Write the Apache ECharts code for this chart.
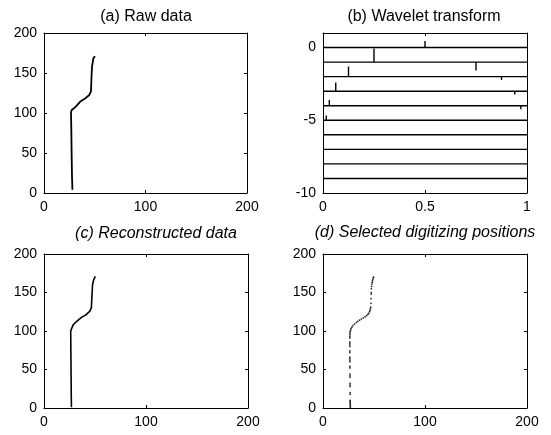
<!DOCTYPE html>
<html>
<head>
<meta charset="utf-8">
<script src="https://cdn.jsdelivr.net/npm/echarts@6/dist/echarts.min.js"></script>
<style>
  html, body { margin: 0; padding: 0; background: #fff; }
  #main { width: 551px; height: 435px; }
</style>
</head>
<body>
<div id="main"></div>
<script>
const rawX = [28, 27.6, 27.2, 26.9, 26.6, 27.5, 29.6, 32, 35.5, 40.4, 44.6, 46.3, 46.5, 46.8, 47.3, 48.6, 50.2];
const rawY = [4, 20, 50, 80, 101, 104, 106, 109, 114, 118, 122.5, 127, 135, 145, 158, 168, 171];

// (c) reconstructed curve
const recX = [26.9, 26.7, 26.5, 26.3, 26.2, 27, 28.6, 31.5, 36.7, 41, 44.8, 46.4, 46.8, 47.2, 47.6, 48.8, 50.4];
const recY = [1, 20, 50, 80, 99.6, 103, 108, 112, 117.7, 121, 125.5, 130, 140, 150, 160, 167, 171];

// (d) selected digitizing positions
const selX = [26.8, 26.8, 26.7, 26.7, 26.7, 26.6, 26.6, 26.6, 26.6, 26.5, 26.5, 26.5, 26.5, 26.5, 26.4, 26.4,
  26.4, 26.4, 26.4, 26.3, 26.3, 26.3, 26.3, 26.3, 26.3, 26.3, 26.3, 26.3, 26.3, 26.4, 26.4, 26.5,
  27, 27.5, 28.3, 29.3, 30.8, 32.5, 34, 35.8, 37.6, 39.5, 41.3, 42.8, 44, 44.8, 45.6, 46.1, 46.5, 46.8,
  47, 47.1, 47.2, 47.3, 47.4, 47.6, 47.9, 48.2, 48.5, 48.9, 49.3, 49.6];
const selY = [1, 2.5, 4, 5.5, 7, 8.5, 10, 18, 20, 28, 30, 32, 40, 42, 44, 52,
  54, 60, 62, 64, 66, 72, 74, 80, 82, 84, 86, 91, 93, 95, 97, 99,
  101, 103, 105, 107, 109, 111, 112.5, 114, 115.5, 117, 118.5, 120, 121.5, 123, 125, 127, 129, 131,
  136, 142, 148, 150, 155, 158, 161, 163, 165, 167, 169, 170];

// (b) wavelet transform: one trace per level, spikes at given positions
const levels = [0, -1, -2, -3, -4, -5, -6, -7, -8, -9];
const spikeLevel = [0, -1, -1, -2, -2, -3, -3, -3, -3, -4, -4, -5];
const spikeX = [0.5, 0.25, 0.75, 0.125, 0.875, 0.0625, 0.44, 0.8, 0.94, 0.031, 0.97, 0.016];
const spikeAmp = [0.45, 0.93, -0.58, 0.7, -0.23, 0.6, 0.08, 0.08, -0.23, 0.4, -0.25, 0.33];

const xyTicks = [0, 100, 200];
const waveXTicks = [0, 0.5, 1];

const pairs = (xs, ys) => xs.map((x, i) => [x, ys[i]]);

const chart = echarts.init(document.getElementById('main'));

const font = 'Liberation Sans, Arial, sans-serif';
const grids = [
  { left: 44, top: 33, width: 203, height: 160 },
  { left: 323, top: 33, width: 204, height: 160 },
  { left: 44, top: 254, width: 204, height: 154 },
  { left: 323, top: 254, width: 204, height: 154 }
];

function makeX(gi, min, max, interval, pos) {
  return {
    type: 'value', gridIndex: gi, min: min, max: max, interval: interval, position: pos,
    axisLine: { onZero: false, lineStyle: { color: '#000', width: 1 } },
    axisTick: { inside: true, length: 3, lineStyle: { color: '#000' } },
    axisLabel: { show: pos === 'bottom', color: '#000', fontSize: 14, fontFamily: font, margin: 7 },
    splitLine: { show: false }
  };
}
function makeY(gi, min, max, interval, pos, fmt) {
  return {
    type: 'value', gridIndex: gi, min: min, max: max, interval: interval, position: pos,
    axisLine: { onZero: false, lineStyle: { color: '#000', width: 1 } },
    axisTick: { inside: true, length: 3, lineStyle: { color: '#000' } },
    axisLabel: { show: pos === 'left', color: '#000', fontSize: 14, fontFamily: font, margin: 7, formatter: fmt },
    splitLine: { show: false }
  };
}

const xAxes = [], yAxes = [];
[0, 2, 3].forEach(gi => {
  xAxes[gi * 2] = makeX(gi, xyTicks[0], xyTicks[2], xyTicks[1], 'bottom');
  xAxes[gi * 2 + 1] = makeX(gi, xyTicks[0], xyTicks[2], xyTicks[1], 'top');
  yAxes[gi * 2] = makeY(gi, 0, 200, 50, 'left');
  yAxes[gi * 2 + 1] = makeY(gi, 0, 200, 50, 'right');
});
xAxes[2] = makeX(1, waveXTicks[0], waveXTicks[2], waveXTicks[1], 'bottom');
xAxes[3] = makeX(1, waveXTicks[0], waveXTicks[2], waveXTicks[1], 'top');
const waveFmt = v => (v % 5 === 0 ? String(v) : '');
yAxes[2] = makeY(1, -10, 1, 5, 'left', waveFmt);
yAxes[3] = makeY(1, -10, 1, 5, 'right', waveFmt);

const lineBase = { type: 'line', showSymbol: false, silent: true, animation: false };

const series = [
  Object.assign({}, lineBase, { xAxisIndex: 0, yAxisIndex: 0, data: pairs(rawX, rawY),
    lineStyle: { color: '#000', width: 1.8 } }),
  Object.assign({}, lineBase, { xAxisIndex: 4, yAxisIndex: 4, data: pairs(recX, recY),
    lineStyle: { color: '#000', width: 1.6 } }),
  { type: 'scatter', xAxisIndex: 6, yAxisIndex: 6, data: pairs(selX, selY), symbolSize: 1.8,
    itemStyle: { color: '#000' }, silent: true, animation: false }
];

levels.forEach(L => {
  const idx = spikeLevel.map((l, i) => (l === L ? i : -1)).filter(i => i >= 0)
    .sort((a, b) => spikeX[a] - spikeX[b]);
  const data = [[0, L]];
  idx.forEach(i => {
    data.push([spikeX[i], L], [spikeX[i], L + spikeAmp[i]], [spikeX[i], L]);
  });
  data.push([1, L]);
  series.push(Object.assign({}, lineBase, { xAxisIndex: 2, yAxisIndex: 2, data: data,
    lineStyle: { color: '#000', width: 1.4 } }));
});

const titles = [
  { text: '(a) Raw data', x: 146, y: 17, italic: false },
  { text: '(b) Wavelet transform', x: 424, y: 17, italic: false },
  { text: '(c) Reconstructed data', x: 156, y: 234, italic: true },
  { text: '(d) Selected digitizing positions', x: 425, y: 233, italic: true }
];

chart.setOption({
  backgroundColor: '#fff',
  animation: false,
  grid: grids,
  xAxis: xAxes,
  yAxis: yAxes,
  series: series,
  graphic: titles.map(t => ({
    type: 'text', x: t.x, y: t.y,
    style: {
      text: t.text, fill: '#000', textAlign: 'center', textVerticalAlign: 'middle',
      font: (t.italic ? 'italic ' : '') + '16px ' + font
    }
  }))
});

window.addEventListener('resize', () => chart.resize());
</script>
</body>
</html>
